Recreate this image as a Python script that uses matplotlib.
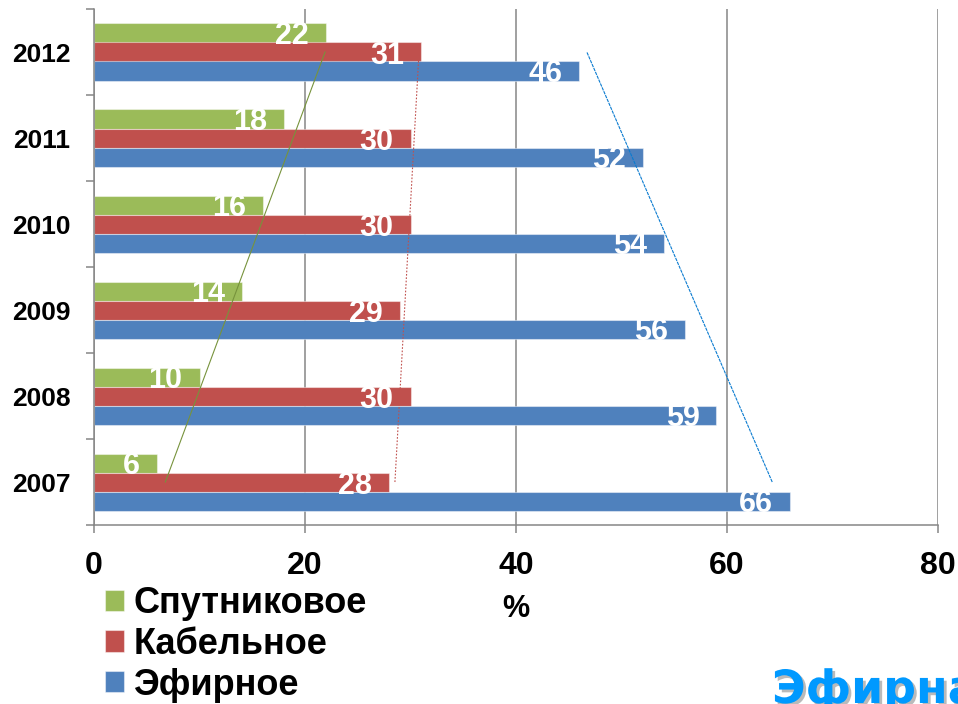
import numpy as np
import matplotlib
matplotlib.use("Agg")
import matplotlib.pyplot as plt
import matplotlib.patheffects as pe

years = ["2007", "2008", "2009", "2010", "2011", "2012"]
series_names = ["Спутниковое", "Кабельное", "Эфирное"]
sat = [6, 10, 14, 16, 18, 22]
cable = [28, 30, 29, 30, 30, 31]
air = [66, 59, 56, 54, 52, 46]
xticks = [0, 20, 40, 60, 80]

bar_colors = ["#9BBB59", "#C0504D", "#4F81BD"]
trend_colors = ["#77933C", "#C0504D", "#0A7BD0"]
trend_styles = ["-", (0, (1.5, 1.5)), (0, (3, 0.8))]

plt.rcParams['font.family'] = ['Liberation Sans', 'DejaVu Sans']
plt.rcParams['font.weight'] = 'bold'

W, H = 958, 704
fig = plt.figure(figsize=(W / 100, H / 100), dpi=100)
ax = fig.add_axes([94 / W, 1 - 525 / H, (938 - 94) / W, (525 - 9) / H])

y = np.arange(len(years))
h = 19 / 86
offsets = [h, 0, -h]
data = [sat, cable, air]
containers = []
for vals, off, col, name in zip(data, offsets, bar_colors, series_names):
    bc = ax.barh(y + off, vals, height=h, color=col, edgecolor=(1, 1, 1, 0.45),
                 linewidth=0.8, label=name, zorder=2)
    containers.append(bc)
    for yi, v in zip(y, vals):
        ax.annotate(str(v), xy=(v, yi + off), xytext=(-12.2, 0),
                    textcoords='offset points', ha='right', va='center_baseline',
                    color='white', fontsize=22, fontweight='bold', zorder=4)

# linear trend lines
for vals, col, ls in zip(data, trend_colors, trend_styles):
    k, b = np.polyfit(y, vals, 1)
    ax.plot(k * y[[0, -1]] + b, y[[0, -1]], color=col, lw=0.8, ls=ls, zorder=3)

ax.set_xlim(0, 80)
ax.set_ylim(-0.5, len(years) - 0.5)
ax.set_xticks(xticks)
ax.set_xticklabels([str(t) for t in xticks], fontsize=23, fontweight='bold')
ax.tick_params(axis='x', length=6, width=1.1, color='#868686', pad=13)

ax.set_yticks(np.arange(-0.5, len(years), 1.0))
ax.set_yticklabels([])
ax.set_yticks(y, minor=True)
ax.set_yticklabels(years, minor=True, fontsize=19, fontweight='bold')
ax.tick_params(axis='y', which='major', length=6, width=1.1, color='#868686')
ax.tick_params(axis='y', which='minor', length=0, pad=17)

ax.grid(axis='x', color='#868686', lw=1.1, zorder=1)
ax.set_axisbelow(True)
for s in ['top', 'right']:
    ax.spines[s].set_visible(False)
for s in ['left', 'bottom']:
    ax.spines[s].set_color('#868686')
    ax.spines[s].set_linewidth(1.1)

fig.text(516 / W, 1 - 609 / H, "%", fontsize=22, fontweight='bold',
         ha='center', va='center')

leg = fig.legend(handles=containers, labels=series_names, loc='upper left',
                 bbox_to_anchor=(105 / W, 1 - 586 / H), frameon=False,
                 handlelength=0.53, handleheight=0.53,
                 handletextpad=0.25, labelspacing=0.16, borderpad=0,
                 borderaxespad=0, prop={'weight': 'bold', 'size': 26})

fig.text(772 / W, 1 / H, "Эфирна", fontsize=33, fontweight='bold',
         family='DejaVu Sans', color='#0099FF', ha='left', va='baseline',
         path_effects=[pe.withSimplePatchShadow(offset=(2, -2),
                                                shadow_rgbFace='#777777',
                                                alpha=0.5)])

fig.savefig("out.png", dpi=100)
